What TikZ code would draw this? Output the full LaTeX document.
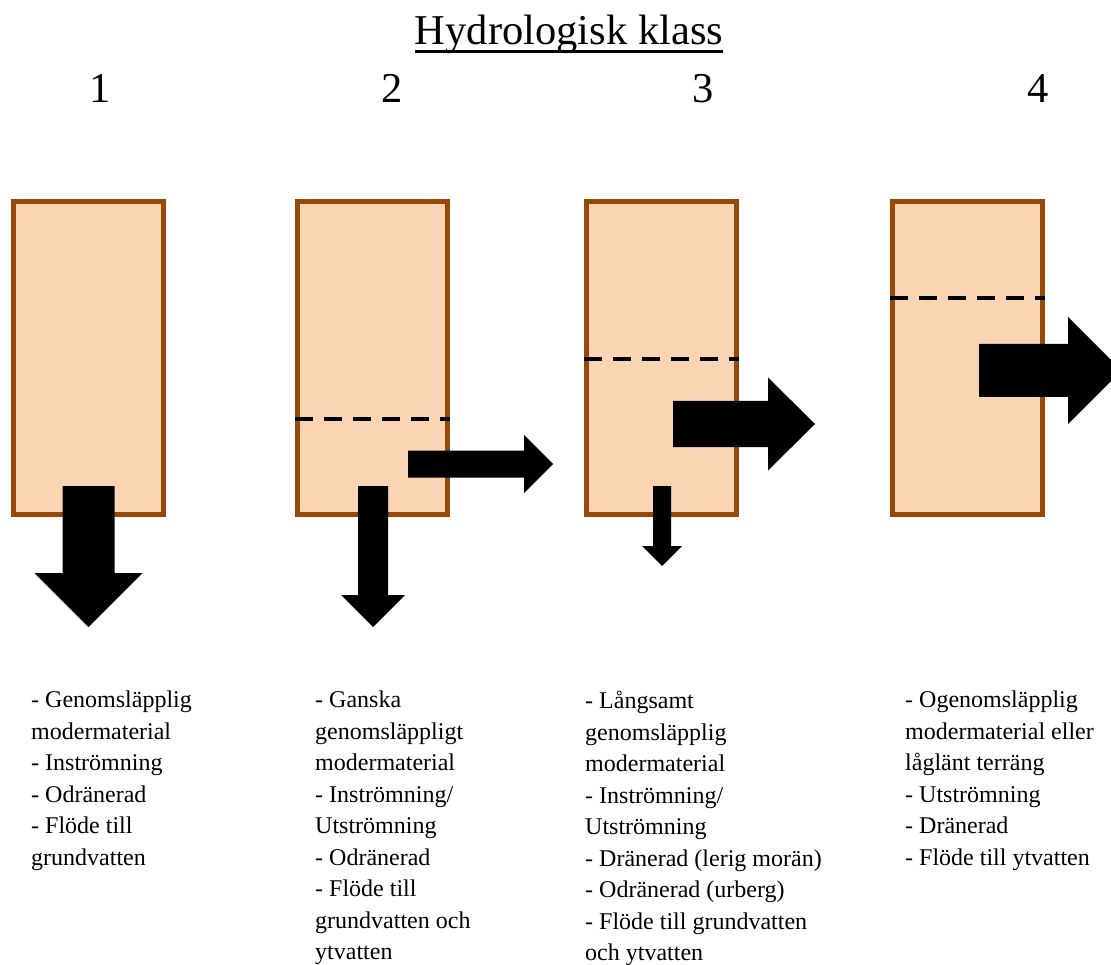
\documentclass[tikz,border=0pt]{standalone}
\usepackage{fontspec}
\setmainfont{Liberation Serif}
\usepackage{tikz}
\usetikzlibrary{positioning}

\definecolor{soilbrown}{RGB}{152,72,7}
\definecolor{soilfill}{RGB}{251,212,180}

\begin{document}
\begin{tikzpicture}[x=1pt, y=-1pt,
  soilbox/.style={draw=soilbrown, fill=soilfill, line width=5pt, minimum width=150pt, minimum height=313pt, inner sep=0pt},
  waterline/.style={line width=4pt, dash pattern=on 18pt off 11pt},
  flow/.style={fill=black},
  classno/.style={font=\fontsize{42.5}{50}\selectfont, inner sep=0pt, anchor=base},
  notes/.style={font=\fontsize{24}{31.5}\selectfont, align=left, inner sep=0pt, anchor=north west,
    execute at begin node=\rule{0pt}{18pt}}]
  \useasboundingbox (0,0) rectangle (1111,965);

  \node[classno] (title) at (569,45) {Hydrologisk klass};
  \draw[line width=2.5pt] ([yshift=-6.7pt]title.base west) -- ([yshift=-6.7pt]title.base east);
  \node[classno] (k1) at (100,103) {1};
  \node[classno] (k2) at (392,103) {2};
  \node[classno] (k3) at (703,103) {3};
  \node[classno] (k4) at (1038,103) {4};

  \node[soilbox] (b1) at (88.5,358) {};
  \node[soilbox] (b2) at (372.5,358) {};
  \node[soilbox] (b3) at (661.5,358) {};
  \node[soilbox] (b4) at (967.5,358) {};

  \draw[waterline] (b2.west |- 0,419) -- (b2.east |- 0,419);
  \draw[waterline] (b3.west |- 0,359) -- (b3.east |- 0,359);
  \draw[waterline] (b4.west |- 0,298) -- (b4.east |- 0,298);

  \fill[flow] (62.5,486) -- (114.5,486) -- (114.5,573) -- (142.5,573) -- (88.5,627) -- (34.5,573) -- (62.5,573) -- cycle;
  \fill[flow] (358,486) -- (388,486) -- (388,595) -- (405,595) -- (373,627) -- (341,595) -- (358,595) -- cycle;
  \fill[flow] (408,450.5) -- (524,450.5) -- (524,435) -- (553,464) -- (524,493) -- (524,477.5) -- (408,477.5) -- cycle;
  \fill[flow] (653,486) -- (671,486) -- (671,546) -- (682,546) -- (662,566) -- (642,546) -- (653,546) -- cycle;
  \fill[flow] (673,401) -- (768,401) -- (768,377.5) -- (815,424) -- (768,470.5) -- (768,447) -- (673,447) -- cycle;
  \fill[flow] (979,344) -- (1068,344) -- (1068,317) -- (1121.5,370.5) -- (1068,424) -- (1068,397) -- (979,397) -- cycle;

  \node[notes] (t1) at (31,691) {- Genomsläpplig\\modermaterial\\- Inströmning\\- Odränerad\\- Flöde till\\grundvatten};
  \node[notes] (t2) at (315,691) {- Ganska\\genomsläppligt\\modermaterial\\- Inströmning/\\Utströmning\\- Odränerad\\- Flöde till\\grundvatten och\\ytvatten};
  \node[notes] (t3) at (585,691) {- Långsamt\\genomsläpplig\\modermaterial\\- Inströmning/\\Utströmning\\- Dränerad (lerig morän)\\- Odränerad (urberg)\\- Flöde till grundvatten\\och ytvatten};
  \node[notes] (t4) at (905,691) {- Ogenomsläpplig\\modermaterial eller\\låglänt terräng\\- Utströmning\\- Dränerad\\- Flöde till ytvatten};
\end{tikzpicture}
\end{document}
